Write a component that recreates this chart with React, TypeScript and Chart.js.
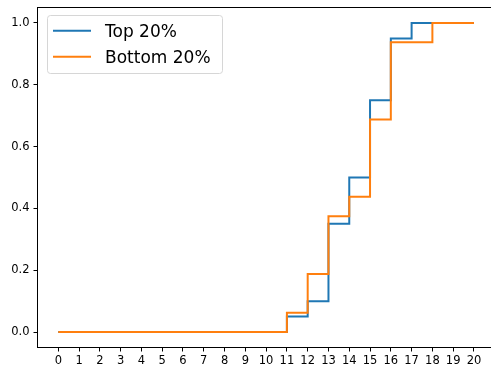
import React, { useEffect, useRef } from "react";
import { Chart, registerables } from "chart.js";

Chart.register(...registerables);

const categories = [0, 1, 2, 3, 4, 5, 6, 7, 8, 9, 10, 11, 12, 13, 14, 15, 16, 17, 18, 19, 20];
const topValues = [0, 0, 0, 0, 0, 0, 0, 0, 0, 0, 0, 0.05, 0.1, 0.35, 0.5, 0.75, 0.95, 1.0, 1.0, 1.0, 1.0];
const bottomValues = [0, 0, 0, 0, 0, 0, 0, 0, 0, 0, 0, 0.0625, 0.1875, 0.375, 0.4375, 0.6875, 0.9375, 0.9375, 1.0, 1.0, 1.0];
const yTicks = [0, 0.2, 0.4, 0.6, 0.8, 1.0];
const seriesNames = ["Top 20%", "Bottom 20%"];
const seriesColors = ["#1f77b4", "#ff7f0e"];

const FONT = "'DejaVu Sans', sans-serif";

const framePlugin = {
  id: "frame",
  afterDraw(chart: any) {
    const { ctx, chartArea } = chart;
    ctx.save();
    ctx.strokeStyle = "#000";
    ctx.lineWidth = 1;
    ctx.beginPath();
    ctx.moveTo(chartArea.left, chartArea.top);
    ctx.lineTo(chartArea.right + 5, chartArea.top);
    ctx.stroke();

    // legend
    const x0 = 47.5, y0 = 15.5, w = 175, h = 58, r = 3;
    ctx.beginPath();
    ctx.moveTo(x0 + r, y0);
    ctx.lineTo(x0 + w - r, y0);
    ctx.arcTo(x0 + w, y0, x0 + w, y0 + r, r);
    ctx.lineTo(x0 + w, y0 + h - r);
    ctx.arcTo(x0 + w, y0 + h, x0 + w - r, y0 + h, r);
    ctx.lineTo(x0 + r, y0 + h);
    ctx.arcTo(x0, y0 + h, x0, y0 + h - r, r);
    ctx.lineTo(x0, y0 + r);
    ctx.arcTo(x0, y0, x0 + r, y0, r);
    ctx.closePath();
    ctx.fillStyle = "rgba(255,255,255,0.8)";
    ctx.fill();
    ctx.strokeStyle = "#d6d6d6";
    ctx.stroke();

    const rowsY = [30.7, 56.7];
    const baselines = [37.3, 63.3];
    ctx.font = `17px ${FONT}`;
    ctx.textBaseline = "alphabetic";
    ctx.textAlign = "left";
    for (let i = 0; i < seriesNames.length; i++) {
      ctx.strokeStyle = seriesColors[i];
      ctx.lineWidth = 2;
      ctx.beginPath();
      ctx.moveTo(53, rowsY[i]);
      ctx.lineTo(91, rowsY[i]);
      ctx.stroke();
      ctx.fillStyle = "#000";
      ctx.fillText(seriesNames[i], 105, baselines[i]);
    }
    ctx.restore();
  },
};

export default function App() {
  const ref = useRef<HTMLCanvasElement | null>(null);

  useEffect(() => {
    if (!ref.current) return;
    const chart = new Chart(ref.current, {
      type: "line",
      data: {
        datasets: [
          {
            label: seriesNames[0],
            data: categories.map((x, i) => ({ x, y: topValues[i] })),
            borderColor: seriesColors[0],
            borderWidth: 2,
            pointRadius: 0,
            stepped: "before",
            fill: false,
            order: 2,
          },
          {
            label: seriesNames[1],
            data: categories.map((x, i) => ({ x, y: bottomValues[i] })),
            borderColor: seriesColors[1],
            borderWidth: 2,
            pointRadius: 0,
            stepped: "before",
            fill: false,
            order: 1,
          },
        ],
      },
      options: {
        responsive: false,
        animation: false,
        devicePixelRatio: 1,
        layout: { padding: { top: 7.5, left: 0, right: 0, bottom: 0 } },
        plugins: {
          legend: { display: false },
          tooltip: { enabled: false },
        },
        scales: {
          x: {
            type: "linear",
            min: -1,
            max: 20.82,
            afterBuildTicks: (scale: any) => {
              scale.ticks = categories.map((v) => ({ value: v }));
            },
            afterFit: (scale: any) => {
              scale.height = 23.5;
              scale.paddingLeft = 0;
              scale.paddingRight = 0;
            },
            grid: { drawOnChartArea: false, drawTicks: true, tickLength: 4, color: "#000" },
            border: { display: true, color: "#000", width: 1 },
            ticks: {
              autoSkip: false,
              maxRotation: 0,
              padding: 3,
              color: "#000",
              font: { family: FONT, size: 11.5 },
              callback: (v: any) => String(Math.round(Number(v))),
            },
          },
          y: {
            type: "linear",
            min: -0.05,
            max: 1.05,
            afterBuildTicks: (scale: any) => {
              scale.ticks = yTicks.map((v) => ({ value: v }));
            },
            afterFit: (scale: any) => {
              scale.width = 37.5;
              scale.paddingTop = 0;
              scale.paddingBottom = 0;
            },
            grid: { drawOnChartArea: false, drawTicks: true, tickLength: 4, color: "#000" },
            border: { display: true, color: "#000", width: 1 },
            ticks: {
              padding: 4,
              color: "#000",
              font: { family: FONT, size: 11.5 },
              callback: (v: any) => Number(v).toFixed(1),
            },
          },
        },
      },
      plugins: [framePlugin],
    } as any);
    return () => chart.destroy();
  }, []);

  return (
    <div style={{ position: "absolute", left: 0, top: 0, width: 491, height: 371, overflow: "hidden", background: "#fff" }}>
      <canvas ref={ref} width={491} height={371} style={{ width: 491, height: 371, display: "block" }} />
    </div>
  );
}
